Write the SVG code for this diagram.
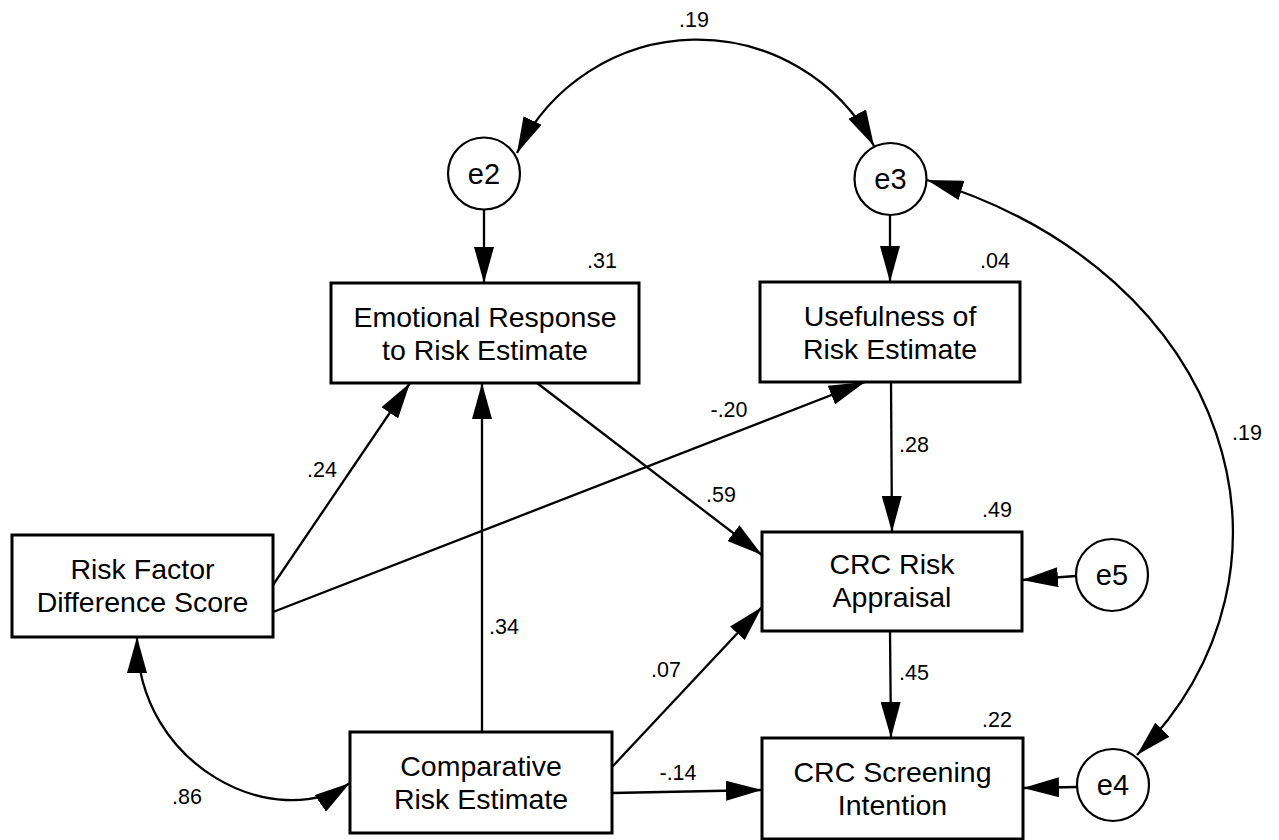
<svg xmlns="http://www.w3.org/2000/svg" width="1279" height="840" viewBox="0 0 1279 840">
<style>
.box{fill:#fff;stroke:#000;stroke-width:3}
.circ{fill:#fff;stroke:#000;stroke-width:2.2}
.nt{font-family:"Liberation Sans",Arial,sans-serif;font-size:28.5px;text-anchor:middle;fill:#000}
.et{font-family:"Liberation Sans",Arial,sans-serif;font-size:29px;text-anchor:middle;fill:#000}
.lb{font-family:"Liberation Sans",Arial,sans-serif;font-size:21.5px;text-anchor:middle;fill:#000}
.c{fill:none;stroke:#000;stroke-width:2.3;marker-end:url(#ah)}
.cc{fill:none;stroke:#000;stroke-width:2.3;marker-end:url(#ah);marker-start:url(#ahs)}
</style>
<defs>
<marker id="ah" markerUnits="userSpaceOnUse" markerWidth="36" markerHeight="20" viewBox="0 0 36 20" refX="36" refY="10" orient="auto"><path d="M0,0 L36,10 L0,20 z" fill="#000"/></marker>
<marker id="ahs" markerUnits="userSpaceOnUse" markerWidth="36" markerHeight="20" viewBox="0 0 36 20" refX="36" refY="10" orient="auto-start-reverse"><path d="M0,0 L36,10 L0,20 z" fill="#000"/></marker>
</defs>
<rect width="1279" height="840" fill="#fff"/>
<g id="connectors">
<path class="c" d="M484 209.5 L484 283"/>
<path class="c" d="M890 215 L890 282"/>
<path class="cc" d="M517 153 A200 200 0 0 1 874 146"/>
<path class="cc" d="M927 180 C1234 273 1321 571 1137 755"/>
<path class="c" d="M273 585 L410 383"/>
<path class="c" d="M482 732 L482 383"/>
<path class="c" d="M273 612 L865 382"/>
<path class="c" d="M537 383 L762 555"/>
<path class="c" d="M891 382 L892 532"/>
<path class="c" d="M612 767 L762 607"/>
<path class="c" d="M1076 576 L1022 580"/>
<path class="c" d="M890 631 L891 738"/>
<path class="c" d="M612 793 L762 790"/>
<path class="c" d="M1077 787 L1023 788"/>
<path class="cc" d="M137 637 C137 767 276 834 350 783"/>
</g>
<g id="labels">
<text class="lb" x="694" y="27">.19</text>
<text class="lb" x="602" y="268">.31</text>
<text class="lb" x="995" y="268">.04</text>
<text class="lb" x="322" y="477">.24</text>
<text class="lb" x="729" y="417">-.20</text>
<text class="lb" x="914" y="452">.28</text>
<text class="lb" x="721" y="502">.59</text>
<text class="lb" x="1247" y="440">.19</text>
<text class="lb" x="997" y="517">.49</text>
<text class="lb" x="504" y="634">.34</text>
<text class="lb" x="666" y="677">.07</text>
<text class="lb" x="914" y="680">.45</text>
<text class="lb" x="997" y="727">.22</text>
<text class="lb" x="187" y="804">.86</text>
<text class="lb" x="678" y="780">-.14</text>
</g>
<g id="e2"><circle class="circ" cx="484" cy="173.5" r="36"/><text class="et" x="484" y="183.5">e2</text></g>
<g id="e3"><circle class="circ" cx="890.5" cy="179" r="36"/><text class="et" x="890.5" y="189">e3</text></g>
<g id="e5"><circle class="circ" cx="1112" cy="575" r="36"/><text class="et" x="1112" y="585">e5</text></g>
<g id="e4"><circle class="circ" cx="1113" cy="785" r="36"/><text class="et" x="1113" y="795">e4</text></g>
<g id="emotional"><rect class="box" x="331" y="283" width="308" height="100"/><text class="nt" x="485" y="327">Emotional Response</text><text class="nt" x="485" y="360">to Risk Estimate</text></g>
<g id="usefulness"><rect class="box" x="760" y="282" width="260" height="100"/><text class="nt" x="890" y="326">Usefulness of</text><text class="nt" x="890" y="359">Risk Estimate</text></g>
<g id="riskfactor"><rect class="box" x="12" y="535" width="261" height="102"/><text class="nt" x="142.5" y="579">Risk Factor</text><text class="nt" x="142.5" y="612">Difference Score</text></g>
<g id="crcrisk"><rect class="box" x="762" y="532" width="260" height="99"/><text class="nt" x="892" y="574">CRC Risk</text><text class="nt" x="892" y="607">Appraisal</text></g>
<g id="comparative"><rect class="box" x="350" y="732" width="262" height="101"/><text class="nt" x="481" y="776">Comparative</text><text class="nt" x="481" y="809">Risk Estimate</text></g>
<g id="crcscreening"><rect class="box" x="762" y="738" width="261" height="101"/><text class="nt" x="892.5" y="782">CRC Screening</text><text class="nt" x="892.5" y="815">Intention</text></g>
</svg>
